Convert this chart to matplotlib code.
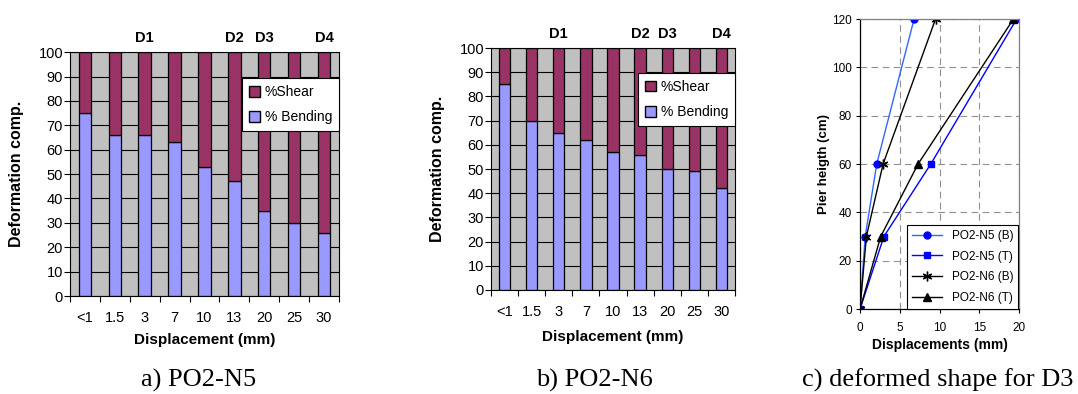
import matplotlib.pyplot as plt
from matplotlib.patches import Patch

plt.rcParams['font.family'] = ['Liberation Sans', 'DejaVu Sans']

# bar charts a) and b)
categories = ["<1", "1.5", "3", "7", "10", "13", "20", "25", "30"]
bending_n5 = [75, 66, 66, 63, 53, 47, 35, 30, 26]
bending_n6 = [85, 70, 65, 62, 57, 56, 50, 49, 42]
d_marks = [("D1", 2), ("D2", 5), ("D3", 6), ("D4", 8)]

# deformed shape c)
heights = [0, 30, 60, 120]
disp_n5_b = [0, 0.65, 2.1, 6.8]
disp_n5_t = [0, 3.0, 8.9, 19.7]
disp_n6_b = [0, 0.8, 2.9, 9.5]
disp_n6_t = [0, 2.6, 7.3, 19.3]

SHEAR = "#993366"
BEND = "#9999FF"
GRAY = "#C0C0C0"


def bar_panel(ax, bending, leg_anchor, ylab_x, xlab_y):
    shear = [100 - b for b in bending]
    x = list(range(len(categories)))
    ax.set_facecolor(GRAY)
    ax.set_axisbelow(True)
    ax.bar(x, bending, 0.42, color=BEND, edgecolor="black", linewidth=0.9)
    ax.bar(x, shear, 0.42, bottom=bending, color=SHEAR, edgecolor="black", linewidth=0.9)
    ax.set_xlim(-0.5, len(categories) - 0.5)
    ax.set_ylim(0, 100)
    ax.set_yticks(range(0, 101, 10))
    ax.yaxis.grid(True, color="black", linewidth=0.8)
    ax.set_xticks(x)
    ax.set_xticklabels(categories)
    ax.set_xticks([i - 0.5 for i in range(len(categories) + 1)], minor=True)
    ax.tick_params(axis="x", which="major", length=0, pad=11, labelsize=10.5)
    ax.tick_params(axis="x", which="minor", length=4, width=0.8)
    ax.tick_params(axis="y", length=4, width=0.8, pad=1, labelsize=10.5)
    for s in ax.spines.values():
        s.set_linewidth(0.8)
    for name, i in d_marks:
        ax.annotate(name, xy=(i, 1.0), xycoords=("data", "axes fraction"),
                    xytext=(0, 5), textcoords="offset points",
                    ha="center", va="bottom", fontsize=10.5, fontweight="bold")
    ax.set_ylabel("Deformation comp.", fontsize=11.5, fontweight="bold")
    ax.yaxis.set_label_coords(ylab_x, 0.5)
    ax.set_xlabel("Displacement (mm)", fontsize=11, fontweight="bold")
    ax.xaxis.set_label_coords(0.5, xlab_y)
    handles = [Patch(facecolor=SHEAR, edgecolor="black", label="%Shear"),
               Patch(facecolor=BEND, edgecolor="black", label="% Bending")]
    leg = ax.legend(handles=handles, loc="upper right", bbox_to_anchor=leg_anchor,
                    fontsize=10, fancybox=False, framealpha=1, edgecolor="black",
                    handlelength=0.8, handleheight=0.8, handletextpad=0.3,
                    borderpad=0.5, labelspacing=0.8, borderaxespad=0)
    leg.get_frame().set_linewidth(0.8)


fig = plt.figure(figsize=(10.78, 3.94), dpi=100)

ax_a = fig.add_axes((0.0649, 0.2487, 0.2495, 0.619))
bar_panel(ax_a, bending_n5, (1.0, 0.893), -0.17, -0.15)

ax_b = fig.add_axes((0.4555, 0.264, 0.2263, 0.614))
bar_panel(ax_b, bending_n6, (1.0, 0.897), -0.19, -0.165)

ax_c = fig.add_axes((0.7978, 0.2157, 0.1475, 0.736))
ax_c.plot(disp_n5_b, heights, color="#3366FF", lw=1, marker="o", ms=5,
          mfc="#0000FF", mec="#0000FF", label="PO2-N5 (B)")
ax_c.plot(disp_n5_t, heights, color="#0000FF", lw=1, marker="s", ms=5,
          mfc="#0000FF", mec="#0000FF", label="PO2-N5 (T)")
ax_c.plot(disp_n6_b, heights, color="black", lw=1, marker=(6, 2, 0), ms=7,
          mew=1, label="PO2-N6 (B)")
ax_c.plot(disp_n6_t, heights, color="black", lw=1, marker="^", ms=6,
          label="PO2-N6 (T)")
ax_c.set_xlim(0, 20)
ax_c.set_ylim(0, 120)
ax_c.set_xticks(range(0, 21, 5))
ax_c.set_yticks(range(0, 121, 20))
ax_c.grid(True, color="#909090", linestyle=(0, (6, 4)), linewidth=0.8)
ax_c.tick_params(labelsize=8.5, length=3, width=0.8, pad=3)
ax_c.tick_params(axis="x", pad=6)
for side in ("top", "right"):
    ax_c.spines[side].set_color("#808080")
for s in ax_c.spines.values():
    s.set_linewidth(0.9)
ax_c.set_ylabel("Pier heigth (cm)", fontsize=9.5, fontweight="bold")
ax_c.yaxis.set_label_coords(-0.19, 0.5)
ax_c.set_xlabel("Displacements (mm)", fontsize=10, fontweight="bold")
ax_c.xaxis.set_label_coords(0.5, -0.1)
leg = ax_c.legend(loc="lower right", bbox_to_anchor=(0.995, 0.0), fontsize=8.5,
                  fancybox=False, framealpha=1, edgecolor="black",
                  handlelength=2.6, labelspacing=0.75, borderaxespad=0)
leg.get_frame().set_linewidth(0.8)

caption_font = dict(family="Liberation Serif", fontsize=19, ha="center", va="center")
fig.text(199 / 1078, 1 - 380 / 394, "a) PO2-N5", **caption_font)
fig.text(594 / 1078, 1 - 380 / 394, "b) PO2-N6", **caption_font)
fig.text(938 / 1078, 1 - 380 / 394, "c) deformed shape for D3", **caption_font)

fig.savefig("out.png", dpi=100)
